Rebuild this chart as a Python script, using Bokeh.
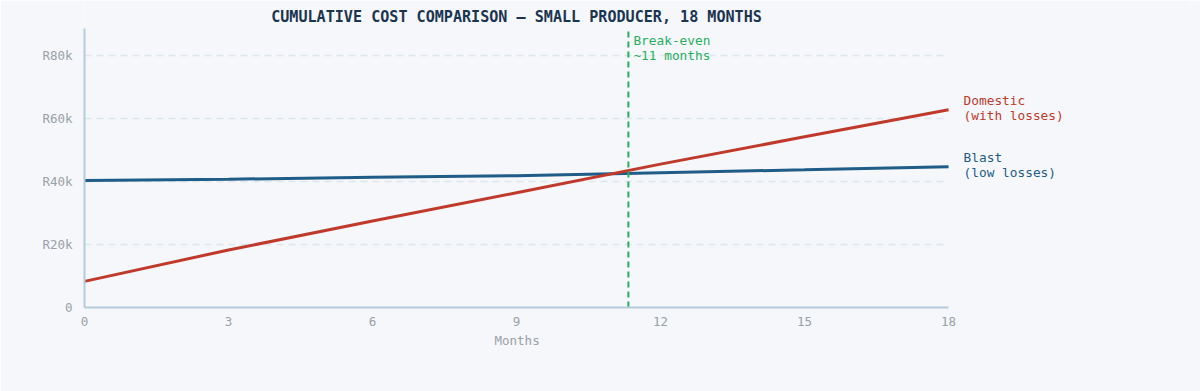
from bokeh.plotting import figure
from bokeh.models import Range1d, FixedTicker, CustomJSTickFormatter, Label, ColumnDataSource, Title
from bokeh.embed import file_html
from bokeh.resources import INLINE

# ---- data ----
months = [0, 3, 6, 9, 12, 15, 18]
domestic = [8300, 18300, 27500, 36500, 45600, 54300, 62900]
blast = [40400, 40800, 41400, 41900, 42900, 43800, 44800]
break_even_month = 11.33
x_ticks = [0, 3, 6, 9, 12, 15, 18]
y_ticks = [0, 20000, 40000, 60000, 80000]
title_text = "CUMULATIVE COST COMPARISON \u2014 SMALL PRODUCER, 18 MONTHS"
x_label = "Months"
domestic_label = "Domestic\n(with losses)"
blast_label = "Blast\n(low losses)"
break_label = "Break-even\n~11 months"

X_MAX = 18          # axis extent
Y_MAX = 88700       # axis extent

FONT = "DejaVu Sans Mono"
BG = "#f5f7fa"
RED = "#c0392b"
BLUE = "#1f5c87"
GREEN = "#27ae60"
AXIS = "#b5cbdb"
GREY = "#9aa1a7"

# frame extends past the axes so outside labels are drawn
p = figure(width=1200, height=391, output_backend="svg", toolbar_location=None,
           x_range=Range1d(0, 23.04), y_range=Range1d(0, 97650),
           min_border_left=84, min_border_right=10, min_border_top=0, min_border_bottom=84)
p.background_fill_color = BG
p.border_fill_color = BG
p.outline_line_color = None

src = ColumnDataSource(dict(m=months, d=domestic, b=blast))
p.line("m", "b", source=src, line_color=BLUE, line_width=3)
p.line("m", "d", source=src, line_color=RED, line_width=3)

p.segment(x0=[break_even_month], x1=[break_even_month], y0=[0], y1=[Y_MAX],
          line_color=GREEN, line_width=2, line_dash="6 4")

# axes
for ax in (p.xaxis[0], p.yaxis[0]):
    ax.axis_line_color = AXIS
    ax.axis_line_width = 2
    ax.major_tick_line_color = None
    ax.minor_tick_line_color = None
    ax.major_label_text_font = FONT
    ax.major_label_text_font_size = "12.5px"
    ax.major_label_text_color = GREY

p.xaxis.bounds = (0, X_MAX)
p.yaxis.bounds = (0, Y_MAX)
p.xaxis.ticker = FixedTicker(ticks=x_ticks)
p.yaxis.ticker = FixedTicker(ticks=y_ticks)
p.yaxis.formatter = CustomJSTickFormatter(code="return tick == 0 ? '0' : 'R' + (tick/1000) + 'k';")
p.xaxis.major_label_standoff = 3
p.yaxis.major_label_standoff = 6

p.xgrid.grid_line_color = None
p.ygrid.ticker = FixedTicker(ticks=y_ticks[1:])
p.ygrid.cross_bounds = (0, X_MAX)
p.ygrid.grid_line_color = "#dfe7ee"
p.ygrid.grid_line_dash = "7 5"
p.ygrid.grid_line_width = 1.5

# x axis label, placed under the centre of the axis
p.add_layout(Title(text=x_label, align="left", offset=410, standoff=4, text_font=FONT,
                   text_font_size="12.5px", text_font_style="normal", text_color=GREY),
             "below")

# title
p.add_layout(Label(x=X_MAX / 2, y=Y_MAX, y_offset=12, text=title_text, text_align="center",
                   text_baseline="middle", text_font=FONT, text_font_size="15.1px",
                   text_font_style="bold", text_color="#1b3550"))

# break-even label
p.add_layout(Label(x=break_even_month, y=Y_MAX, x_offset=5, y_offset=-4, text=break_label,
                   text_align="left", text_baseline="top", text_font=FONT,
                   text_font_size="12.8px", text_color=GREEN, text_line_height=1.0))

# end labels
p.add_layout(Label(x=months[-1], y=domestic[-1], x_offset=15, y_offset=1.5, text=domestic_label,
                   text_align="left", text_baseline="middle", text_font=FONT,
                   text_font_size="12.8px", text_color=RED, text_line_height=1.0))
p.add_layout(Label(x=months[-1], y=blast[-1], x_offset=15, y_offset=1.5, text=blast_label,
                   text_align="left", text_baseline="middle", text_font=FONT,
                   text_font_size="12.8px", text_color=BLUE, text_line_height=1.0))

open("out.html", "w").write(file_html(p, INLINE))
